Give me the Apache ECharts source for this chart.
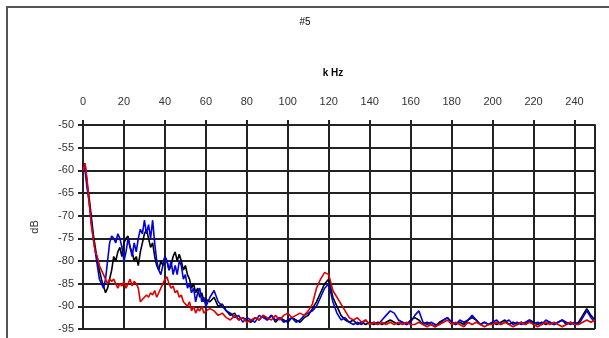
<!DOCTYPE html>
<html>
<head>
<meta charset="utf-8">
<script src="https://cdn.jsdelivr.net/npm/echarts@6/dist/echarts.min.js"></script>
<style>html,body{margin:0;padding:0;background:#fff}#c{width:609px;height:338px}</style>
</head>
<body>
<div id="c"></div>
<script>
// Frequencies (kHz)
const freqLow = [0,1,2,3,4,5,6,7,8,9,10,11,12,13,14,15,16,17,18,19,20,21,22,23,24,25,26,27,28,29,30,31,32,33,34,35,36,37,38,39,40,41,42,43,44,45,46,47,48,49,50,51,52,53,54,55,56,57,58,59,60];
const freqHigh = [62,64,66,68,70,72,74,76,78,80,82,84,86,88,90,92,94,96,98,100,102,104,106,108,110,112,114,116,118,120,122,124,126,128,130,132,134,136,138,140,142,144,146,148,150,152,154,156,158,160,162,164,166,168,170,172,174,176,178,180,182,184,186,188,190,192,194,196,198,200,202,204,206,208,210,212,214,216,218,220,222,224,226,228,230,232,234,236,238,240,242,244,246,248,250];

// Black series (dB)
const blackLow = [-59,-58.5,-63,-66,-70,-74,-77,-80,-82,-84,-85.5,-87,-86,-84,-82,-79,-80,-78,-77,-79,-76,-75,-74.5,-77,-78,-80,-79,-81,-78,-76,-74,-73,-75,-77,-76,-79,-81,-82,-80,-81,-79,-80,-82,-81,-79,-78,-80,-78.5,-80,-82,-81,-83,-84,-86,-85,-87,-86,-88,-87,-89,-88.5];
const blackHigh = [-89,-88,-90,-89.5,-91,-92,-91.5,-93,-92.5,-93,-93.5,-92.5,-93,-92,-93,-92,-93.5,-92.5,-93,-93.5,-92.5,-93,-93.5,-92.5,-92,-90.5,-89,-87,-85,-84,-88,-90,-92,-93,-93.5,-93,-94,-93.5,-94,-93.5,-94,-93.5,-94,-93.5,-93,-93.5,-94,-93.5,-94,-93,-92.5,-93,-94,-93.5,-94,-94.5,-93.5,-93,-92.5,-93.5,-94,-93.5,-94,-93,-92.5,-93,-94,-93.5,-94,-93.5,-94,-93.5,-93,-94,-93.5,-94,-93.5,-94,-93,-93.5,-94,-93.5,-94,-93.5,-94,-93.5,-93,-94,-93.5,-94,-93.5,-92,-90.5,-92,-93];

// Blue series (dB)
const blueLow = [-59,-60,-64,-67,-71,-75,-78,-81,-84,-85,-86,-84,-80,-76,-74.5,-75,-76,-74,-75,-77,-80,-78,-75,-77,-79,-76,-78,-75,-73,-74,-71,-74,-72,-75,-71,-76,-80,-82,-83,-81,-79,-80,-82,-80,-83,-81,-83,-80,-81,-84,-83,-86,-85,-87,-86,-89,-87,-86,-89,-88,-90];
const blueHigh = [-88,-86.5,-89,-90,-91,-91.5,-92.5,-92,-93.5,-92.5,-93,-93.5,-92,-92.5,-93,-92,-93,-92.5,-93.5,-93,-92.5,-93.5,-93,-92,-91.5,-91,-90,-88,-86,-85,-89,-91.5,-93,-92.5,-93.5,-94,-93.5,-94,-93,-94,-93.5,-94,-93,-92,-91,-91.5,-93,-93.5,-94,-93.5,-92,-91,-93.5,-94,-93.5,-94,-94,-93,-92.5,-93.5,-94,-93,-93.5,-93,-92,-93,-94,-93.5,-94,-93.5,-93,-94,-93.5,-93,-94,-93.5,-94,-93.5,-93,-94,-93.5,-94,-93,-93.5,-94,-93.5,-93,-93.5,-94,-93.5,-94,-92.5,-91,-92.5,-93.5];

// Red series (dB)
const redLow = [-60,-58.5,-62,-67,-72,-75,-78,-79,-81,-82,-83,-84,-85,-84,-84.5,-84,-85,-86,-85,-85.5,-84.5,-86,-85,-84,-85.5,-84.5,-85,-86,-89,-88.5,-88,-87.5,-88,-87,-87.5,-86.5,-88,-87,-86,-85,-84,-83.5,-85,-86,-85.5,-87,-86.5,-88,-87.5,-89,-89.5,-90,-89,-91,-90,-91.5,-90.5,-91,-90,-91.5,-91];
const redHigh = [-90.5,-91,-92,-91.5,-92.5,-93,-92,-93,-92.5,-93.5,-93,-92.5,-93,-92,-92.5,-93,-92,-93,-92,-91.5,-92.5,-92,-91.5,-92,-91,-89.5,-86,-84,-82.5,-83,-86.5,-88,-89.5,-91,-92.5,-93,-92.5,-93.5,-93,-94,-93.5,-94,-93.5,-94,-93.5,-94,-93.5,-94,-93.5,-94,-94,-93.5,-94,-94.5,-94,-94.5,-94,-93.5,-93,-94,-93.5,-94,-94.5,-93.5,-94,-93.5,-94,-94.5,-94,-94,-93.5,-94,-93.5,-94,-94.5,-94,-93.5,-94,-93.5,-94,-94.5,-94,-93.5,-94,-93.5,-94,-94.5,-94,-93.5,-94,-94,-93.5,-93,-93.5,-93];

// Axis tick labels
const xTicks = [0,20,40,60,80,100,120,140,160,180,200,220,240];
const yTicks = [-50,-55,-60,-65,-70,-75,-80,-85,-90,-95];

function pairs(fl, fh, vl, vh) {
  const f = fl.concat(fh), v = vl.concat(vh);
  return f.map((x, i) => [x, v[i]]);
}

const chart = echarts.init(document.getElementById('c'), null, {renderer: 'canvas'});
const gridColor = '#222';
const txt = {fontFamily: 'Liberation Sans, Arial, sans-serif', fontSize: 11, color: '#333'};

chart.setOption({
  animation: false,
  backgroundColor: '#fff',
  graphic: [
    {type: 'rect', shape: {x: 7, y: 7, width: 640, height: 400}, style: {fill: 'none', stroke: '#555', lineWidth: 2}, z: 0},
    {type: 'text', x: 305, y: 22, style: Object.assign({}, txt, {text: '#5', fontSize: 10, align: 'center', verticalAlign: 'middle'})},
    {type: 'text', x: 333, y: 73, style: Object.assign({}, txt, {text: 'k Hz', fontSize: 10, fontWeight: 'bold', align: 'center', verticalAlign: 'middle'})}
  ],
  grid: {left: 83, top: 125, width: 512, height: 204, containLabel: false},
  xAxis: {
    type: 'value', position: 'top', min: 0, max: 250, interval: 20,
    axisLine: {show: true, lineStyle: {color: gridColor, width: 2}},
    axisTick: {show: true, inside: false, length: 5, lineStyle: {color: gridColor, width: 2}},
    splitLine: {show: true, lineStyle: {color: gridColor, width: 2}},
    axisLabel: Object.assign({}, txt, {margin: 18, showMaxLabel: false,
      formatter: v => (xTicks.indexOf(v) >= 0 ? String(v) : '')})
  },
  yAxis: {
    type: 'value', min: -95, max: -50, interval: 5,
    name: 'dB', nameLocation: 'middle', nameRotate: 90, nameGap: 43,
    nameTextStyle: Object.assign({}, txt, {fontSize: 11}),
    axisLine: {show: true, lineStyle: {color: gridColor, width: 2}},
    axisTick: {show: true, length: 5, lineStyle: {color: gridColor, width: 2}},
    splitLine: {show: true, lineStyle: {color: gridColor, width: 2}},
    axisLabel: Object.assign({}, txt, {margin: 9,
      formatter: v => (yTicks.indexOf(v) >= 0 ? String(v) : '')})
  },
  series: [
    {type: 'line', name: 'black', data: pairs(freqLow, freqHigh, blackLow, blackHigh), showSymbol: false, lineStyle: {color: '#000', width: 1.6}, itemStyle: {color: '#000'}},
    {type: 'line', name: 'blue', data: pairs(freqLow, freqHigh, blueLow, blueHigh), showSymbol: false, lineStyle: {color: '#0000e0', width: 1.6}, itemStyle: {color: '#0000e0'}},
    {type: 'line', name: 'red', data: pairs(freqLow, freqHigh, redLow, redHigh), showSymbol: false, lineStyle: {color: '#e00000', width: 1.6}, itemStyle: {color: '#e00000'}}
  ]
});
</script>
</body>
</html>
